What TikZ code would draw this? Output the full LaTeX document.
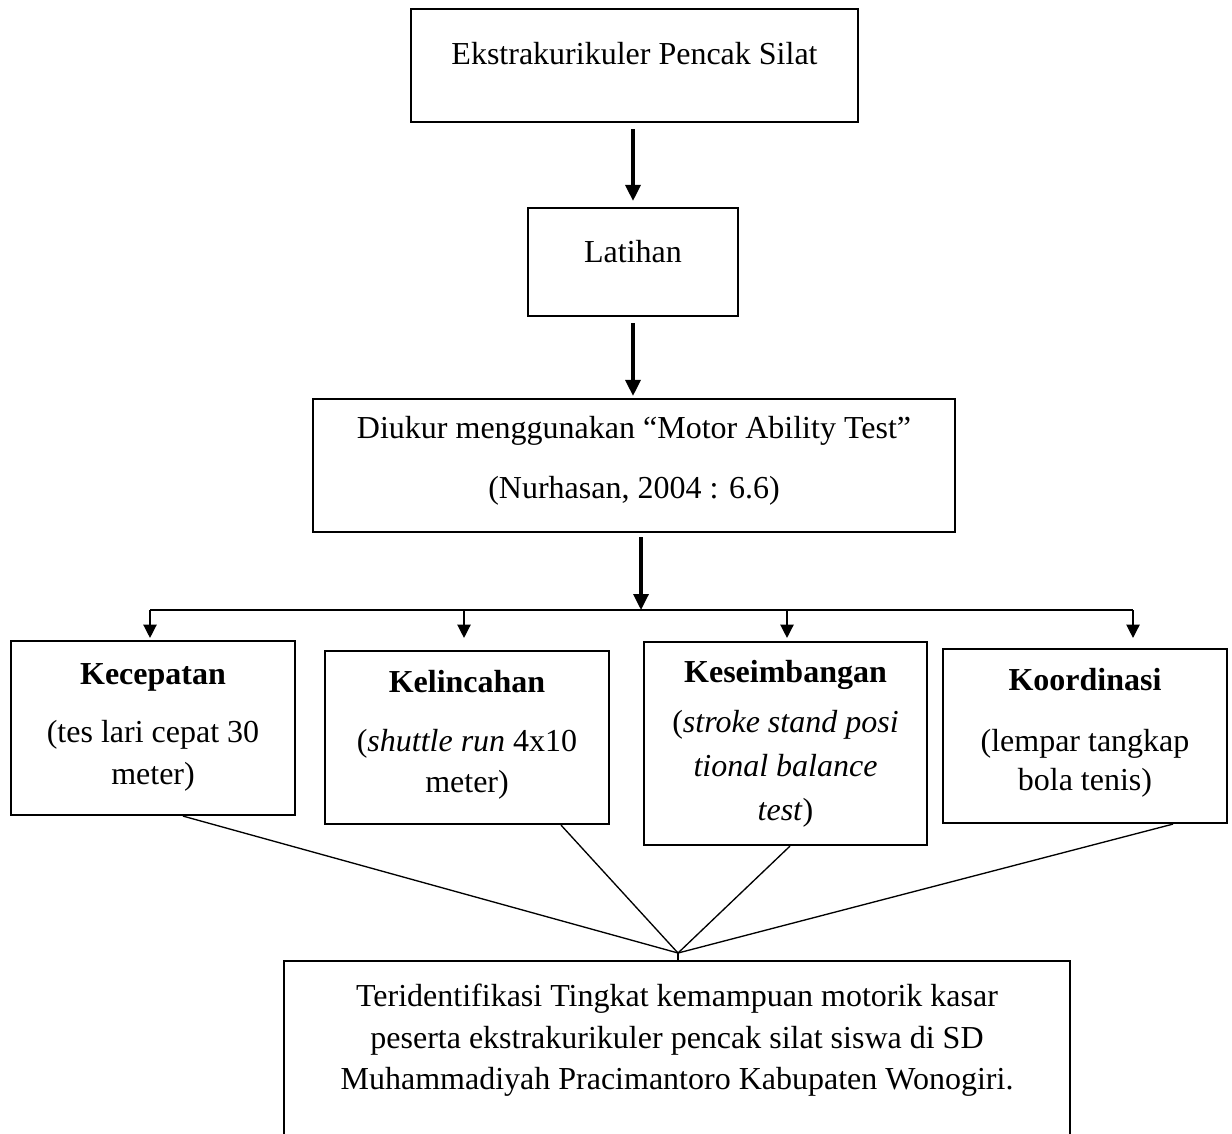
\documentclass[tikz,border=0pt]{standalone}
\usepackage{fontspec}
\setmainfont{Liberation Serif}
\usetikzlibrary{arrows.meta}

\newcommand{\pxu}{0.375pt}

\begin{document}
\begin{tikzpicture}[x=0.375pt, y=-0.375pt,
    every node/.style={font=\fontsize{12pt}{15.5pt}\selectfont},
    box/.style={draw, line width=0.8pt, inner sep=0pt, align=center, text height=8pt, text depth=8pt},
    bigarrow/.style={-{Triangle[width=5.6pt,length=6pt]}, line width=1.3pt},
    thinarrow/.style={-{Triangle[width=5pt,length=5pt]}, line width=0.5pt},
    thinline/.style={line width=0.5pt}]
    \useasboundingbox (0,0) rectangle (1232,1133);

    % Top chain
    \node[box, minimum width=447*\pxu, minimum height=113*\pxu, text depth=8.4pt] (ekstra) at (634.5,65.5) {Ekstrakurikuler Pencak Silat};
    \node[box, minimum width=210*\pxu, minimum height=108*\pxu] (latihan) at (633,262) {Latihan};
    \node[box, minimum width=642*\pxu, minimum height=133*\pxu, text height=32.4pt] (diukur) at (634,465.5) {Diukur menggunakan “Motor Ability Test”\\[7pt](Nurhasan, 2004 : 6.6)};

    % Four test boxes
    \node[box, minimum width=284*\pxu, minimum height=174*\pxu, text height=50pt] (kecepatan) at (153,728) {\textbf{Kecepatan}\\[6.5pt](tes lari cepat 30\\meter)};
    \node[box, minimum width=284*\pxu, minimum height=173*\pxu, text height=49.6pt] (kelincahan) at (467,737.5) {\textbf{Kelincahan}\\[6.5pt](\textit{shuttle run} 4x10\\meter)};
    \node[box, minimum width=283*\pxu, minimum height=203*\pxu, text height=65.9pt] (keseimbangan) at (785.5,743.5) {\textbf{Keseimbangan}\\[3.5pt](\textit{stroke stand posi}\\[1pt]\textit{tional balance}\\[1pt]\textit{test})};
    \node[box, minimum width=284*\pxu, minimum height=174*\pxu, text height=48.5pt] (koordinasi) at (1085,736) {\textbf{Koordinasi}\\[7.5pt](lempar tangkap\\[-1pt]bola tenis)};

    % Result box, cut off at the bottom
    \node[box, draw=none, minimum width=784*\pxu, minimum height=171*\pxu, text height=39.5pt] (hasil) at (677,1047.5) {Teridentifikasi Tingkat kemampuan motorik kasar\\peserta ekstrakurikuler pencak silat siswa di SD\\Muhammadiyah Pracimantoro Kabupaten Wonogiri.};
    \draw[line width=0.8pt] (hasil.south west) -- (hasil.north west) -- (hasil.north east) -- (hasil.south east);

    \coordinate (bus) at (641,610);
    \coordinate (meet) at (678,953);

    % Thick arrows
    \draw[bigarrow, shorten <=6*\pxu, shorten >=6*\pxu] (ekstra.south -| latihan.north) -- (latihan.north);
    \draw[bigarrow, shorten <=6*\pxu, shorten >=2*\pxu] (latihan.south) -- (latihan.south |- diukur.north);
    \draw[bigarrow, shorten <=4*\pxu] (diukur.south -| bus) -- (bus);

    % Branch line and drops
    \draw[thinline] ([xshift=-3*\pxu]kecepatan.north |- bus) -- ([xshift=48*\pxu]koordinasi.north |- bus);
    \foreach \k/\dx/\gap in {kecepatan/-3/2, kelincahan/-3/12, keseimbangan/1.5/3, koordinasi/48/10}
        \draw[thinarrow, shorten >=\gap*\pxu] ([xshift=\dx*\pxu]\k.north |- bus) -- ([xshift=\dx*\pxu]\k.north);

    % Lines to the result
    \foreach \k/\dx in {kecepatan/30, kelincahan/94, keseimbangan/4.5, koordinasi/88}
        \draw[thinline] ([xshift=\dx*\pxu]\k.south) -- (meet);
    \draw[thinline] (meet) -- (hasil.north -| meet);
\end{tikzpicture}
\end{document}
